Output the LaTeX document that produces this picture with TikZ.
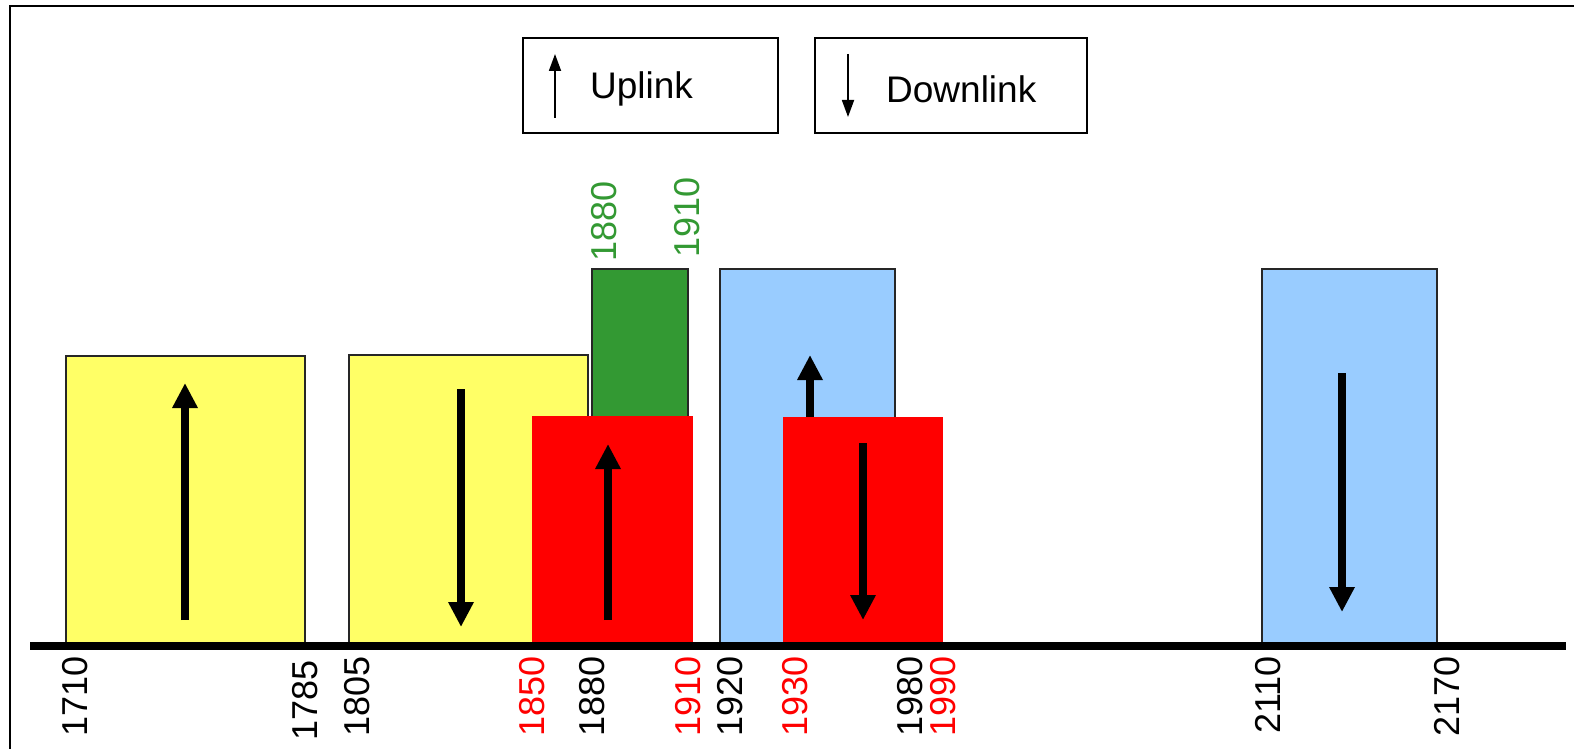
\documentclass[tikz,border=0pt]{standalone}
\usepackage{fontspec}
\setmainfont{Liberation Sans}
\usetikzlibrary{arrows.meta}
\definecolor{yel}{HTML}{FFFF66}
\definecolor{grn}{HTML}{339933}
\definecolor{blu}{HTML}{99CCFF}
\definecolor{rd}{HTML}{FF0000}
\tikzset{
  band/.style={draw=black!85, line width=1.5pt},
  bigarrow/.style={line width=8pt, -{Triangle[width=24pt,length=25pt]}},
  legarrow/.style={line width=1.8pt, -{Triangle[width=12pt,length=17pt]}},
  legbox/.style={draw=black, line width=1.5pt},
  lbl/.style={font=\fontsize{36}{36}\selectfont, inner sep=0pt, rotate=90, anchor=east},
  toplbl/.style={font=\fontsize{36}{36}\selectfont, inner sep=0pt, rotate=90, anchor=west, text=grn},
  legtext/.style={font=\fontsize{37}{37}\selectfont, inner sep=0pt, anchor=west}
}
\begin{document}
\begin{tikzpicture}[x=1pt,y=-1pt]
\useasboundingbox (0,0) rectangle (1574,749);
\fill[white] (0,0) rectangle (1574,749);
% frame (partly cropped)
\draw[line width=2pt] (10,749) -- (10,6) -- (1574,6);
% legend
\draw[legbox] (523,38) rectangle (778,133);
\draw[legbox] (815,38) rectangle (1087,133);
\coordinate (lu1) at (555,118); \coordinate (lu2) at (555,54);
\draw[legarrow] (lu1) -- (lu2);
\node[legtext] (up) at (590,89) {Uplink};
\coordinate (ld1) at (848,54); \coordinate (ld2) at (848,117);
\draw[legarrow] (ld1) -- (ld2);
\node[legtext] (down) at (886,89) {Downlink};
% yellow bands
\draw[band, fill=yel] (66,356) rectangle (305,643);
\draw[band, fill=yel] (349,355) rectangle (588,643);
\coordinate (a1s) at (185,620); \coordinate (a1e) at (185,383);
\draw[bigarrow] (a1s) -- (a1e);
\coordinate (a2s) at (461,389); \coordinate (a2e) at (461,627);
\draw[bigarrow] (a2s) -- (a2e);
% green band
\draw[band, fill=grn] (592,269) rectangle (688,430);
% blue bands
\draw[band, fill=blu] (720,269) rectangle (895,643);
\coordinate (a3s) at (810,600); \coordinate (a3e) at (810,355);
\draw[bigarrow] (a3s) -- (a3e);
\draw[band, fill=blu] (1262,269) rectangle (1437,643);
\coordinate (a4s) at (1342,373); \coordinate (a4e) at (1342,612);
\draw[bigarrow] (a4s) -- (a4e);
% red bands
\fill[rd] (532,416) rectangle (693,643);
\coordinate (a5s) at (608,620); \coordinate (a5e) at (608,444);
\draw[bigarrow] (a5s) -- (a5e);
\fill[rd] (783,417) rectangle (943,643);
\coordinate (a6s) at (863,443); \coordinate (a6e) at (863,620);
\draw[bigarrow] (a6s) -- (a6e);
% axis
\draw[line width=8pt] (30,646) -- (1566,646);
% labels below axis
\node[lbl] (l1710) at (75,656) {1710};
\node[lbl] (l1785) at (305,660) {1785};
\node[lbl] (l1805) at (357,656) {1805};
\node[lbl, text=rd] (l1850) at (532,656) {1850};
\node[lbl] (l1880) at (592,656) {1880};
\node[lbl, text=rd] (l1910) at (688,656) {1910};
\node[lbl] (l1920) at (730,656) {1920};
\node[lbl, text=rd] (l1930) at (795,656) {1930};
\node[lbl] (l1980) at (910,656) {1980};
\node[lbl, text=rd] (l1990) at (943,656) {1990};
\node[lbl] (l2110) at (1268,656) {2110};
\node[lbl] (l2170) at (1447,656) {2170};
% green labels
\node[toplbl] (g1880) at (604,262) {1880};
\node[toplbl] (g1910) at (687,258) {1910};
\end{tikzpicture}
\end{document}
